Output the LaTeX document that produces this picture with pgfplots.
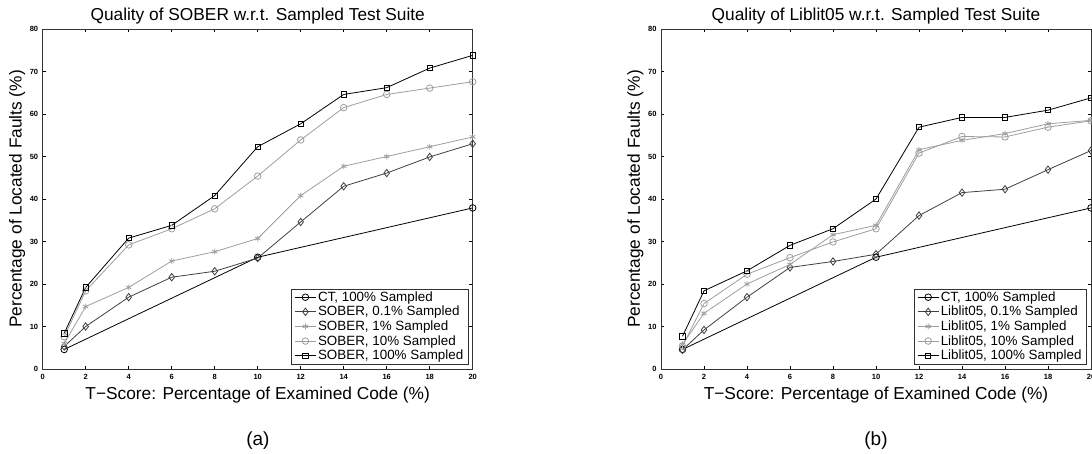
\documentclass[border=0pt]{standalone}
\usepackage{fontspec}
\setmainfont{Liberation Sans}
\usepackage{pgfplots}
\pgfplotsset{compat=1.18}

\definecolor{dkgray}{gray}{0.25}
\definecolor{ltgray}{gray}{0.62}

\pgfplotsset{
  fault/.style={
    scale only axis, width=430pt, height=340pt,
    xmin=0, xmax=20, ymin=0, ymax=80,
    xtick={0,2,...,20}, ytick={0,10,...,80},
    tick align=inside, major tick length=3.3pt,
    every tick/.style={black, line width=0.6pt},
    axis line style={black!80, line width=0.7pt},
    tick label style={font=\fontsize{7.5}{8}\selectfont\bfseries},
    /pgf/number format/assume math mode=true,
    xticklabel style={yshift=-1.5pt},
    yticklabel style={xshift=-1pt},
    title style={at={(axis description cs:0.5,1.008)}, anchor=base, font=\fontsize{17.3}{20}\selectfont},
    xlabel style={at={(axis description cs:0.5,-0.0891)}, anchor=base, font=\fontsize{17.3}{20}\selectfont},
    ylabel style={at={(axis description cs:-0.049,0.5)}, anchor=base, font=\fontsize{17.3}{20}\selectfont},
    xlabel={T−Score: Percentage of Examined Code (\%)},
    ylabel={Percentage of Located Faults (\%)},
    legend style={at={(axis description cs:0.9898,0.0138)}, anchor=south east,
      draw=black!80, line width=0.7pt, font=\fontsize{13.4}{16}\selectfont,
      inner xsep=3pt, inner ysep=1pt, row sep=0pt, nodes={inner sep=1.7pt}},
    legend cell align=left,
    legend image code/.code={\draw[mark repeat=2,mark phase=2,##1] plot coordinates {(0pt,0pt) (10.5pt,0pt) (21pt,0pt)};},
  },
  ct/.style={black, line width=0.8pt, mark=o, mark size=3.3pt},
  d01/.style={dkgray, line width=0.8pt, mark=diamond, mark size=3.7pt},
  s1/.style={ltgray, line width=0.8pt, mark=asterisk, mark size=3pt},
  c10/.style={ltgray, line width=0.8pt, mark=o, mark size=3.3pt},
  sq/.style={black, line width=0.8pt, mark=square, mark size=2.7pt},
}

\begin{document}
\begin{tikzpicture}[x=1pt,y=1pt]
\begin{axis}[fault, at={(42.7pt,84pt)}, anchor=south west,
  title={Quality of SOBER w.r.t. Sampled Test Suite}]
\addplot[ct] coordinates {(1,4.6) (10,26.3) (20,37.9)};
\addlegendentry{CT, 100\% Sampled}
\addplot[d01] coordinates {(1,5.3) (2,10) (4,16.9) (6,21.6) (8,23.0) (10,26.1) (12,34.6) (14,43.0) (16,46.1) (18,49.9) (20,53.0)};
\addlegendentry{SOBER, 0.1\% Sampled}
\addplot[s1] coordinates {(1,6.0) (2,14.7) (4,19.2) (6,25.4) (8,27.6) (10,30.7) (12,40.8) (14,47.7) (16,50.0) (18,52.3) (20,54.6)};
\addlegendentry{SOBER, 1\% Sampled}
\addplot[c10] coordinates {(1,7.6) (2,18.4) (4,29.2) (6,33.0) (8,37.7) (10,45.4) (12,53.9) (14,61.5) (16,64.6) (18,66.1) (20,67.6)};
\addlegendentry{SOBER, 10\% Sampled}
\addplot[sq] coordinates {(1,8.4) (2,19.2) (4,30.8) (6,33.8) (8,40.8) (10,52.3) (12,57.7) (14,64.6) (16,66.2) (18,70.8) (20,73.8)};
\addlegendentry{SOBER, 100\% Sampled}
\end{axis}
\begin{axis}[fault, at={(661pt,84pt)}, anchor=south west,
  title={Quality of Liblit05 w.r.t. Sampled Test Suite}]
\addplot[ct] coordinates {(1,4.6) (10,26.3) (20,37.9)};
\addlegendentry{CT, 100\% Sampled}
\addplot[d01] coordinates {(1,4.5) (2,9.2) (4,16.9) (6,23.9) (8,25.3) (10,27.0) (12,36.1) (14,41.5) (16,42.3) (18,46.9) (20,51.4)};
\addlegendentry{Liblit05, 0.1\% Sampled}
\addplot[s1] coordinates {(1,5.8) (2,13.1) (4,20.0) (6,24.6) (8,31.6) (10,33.8) (12,51.6) (14,53.8) (16,55.4) (18,57.7) (20,58.5)};
\addlegendentry{Liblit05, 1\% Sampled}
\addplot[c10] coordinates {(1,5.4) (2,15.4) (4,22.3) (6,26.2) (8,29.9) (10,33.0) (12,50.8) (14,54.7) (16,54.6) (18,56.9) (20,58.4)};
\addlegendentry{Liblit05, 10\% Sampled}
\addplot[sq] coordinates {(1,7.7) (2,18.4) (4,23.1) (6,29.1) (8,33.0) (10,40.0) (12,56.9) (14,59.2) (16,59.2) (18,60.9) (20,63.8)};
\addlegendentry{Liblit05, 100\% Sampled}
\end{axis}
\node[anchor=base, font=\fontsize{19}{22}\selectfont] at (257.9pt,8pt) {(a)};
\node[anchor=base, font=\fontsize{19}{22}\selectfont] at (876pt,8pt) {(b)};
\pgfresetboundingbox
\path[use as bounding box] (0,0) rectangle (1092pt,453pt);
\end{tikzpicture}
\end{document}
